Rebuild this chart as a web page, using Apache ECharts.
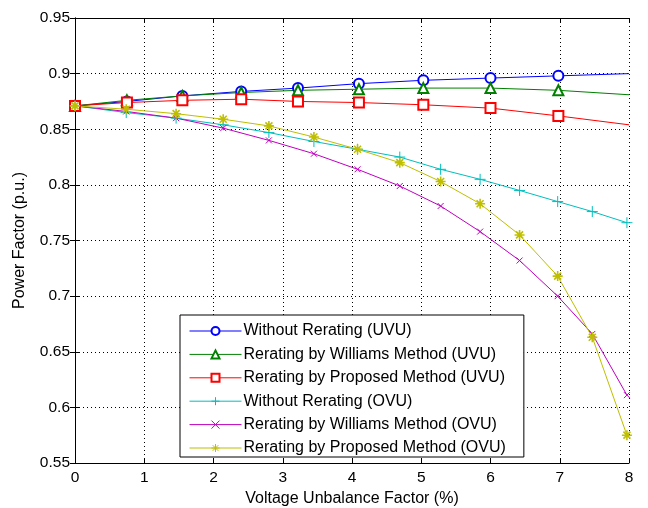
<!DOCTYPE html>
<html>
<head>
<meta charset="utf-8">
<script src="https://cdn.jsdelivr.net/npm/echarts@6/dist/echarts.min.js"></script>
<style>
  html, body { margin: 0; padding: 0; background: #fff; }
  #chart { width: 648px; height: 508px; }
</style>
</head>
<body>
<div id="chart"></div>
<script>
// x positions of the UVU curves (last point drawn without a marker)
const xUvu = [0, 0.75, 1.55, 2.4, 3.22, 4.1, 5.03, 6.0, 6.98, 8];
// x positions of the OVU curves
const xOvu = [0, 0.74, 1.46, 2.14, 2.8, 3.45, 4.08, 4.69, 5.28, 5.85, 6.42, 6.97, 7.47, 7.97];

const withoutUvu = [0.871, 0.875, 0.880, 0.884, 0.887, 0.891, 0.894, 0.896, 0.898, 0.900];
const williamsUvu = [0.871, 0.876, 0.880, 0.883, 0.885, 0.886, 0.887, 0.887, 0.885, 0.881];
const proposedUvu = [0.871, 0.874, 0.876, 0.877, 0.875, 0.874, 0.872, 0.869, 0.862, 0.854];
const withoutOvu = [0.871, 0.865, 0.860, 0.854, 0.847, 0.839, 0.832, 0.825, 0.814, 0.805, 0.795, 0.785, 0.776, 0.766];
const williamsOvu = [0.871, 0.866, 0.860, 0.851, 0.840, 0.828, 0.814, 0.799, 0.781, 0.758, 0.732, 0.700, 0.666, 0.611];
const proposedOvu = [0.871, 0.868, 0.864, 0.859, 0.853, 0.843, 0.832, 0.820, 0.803, 0.783, 0.755, 0.718, 0.663, 0.575];

const names = [
  'Without Rerating (UVU)',
  'Rerating by Williams Method (UVU)',
  'Rerating by Proposed Method (UVU)',
  'Without Rerating (OVU)',
  'Rerating by Williams Method (OVU)',
  'Rerating by Proposed Method (OVU)'
];

const FONT = "'Liberation Sans', Arial, sans-serif";
const PLUS = 'path://M5,0L5,10M0,5L10,5';
const CROSS = 'path://M0,0L10,10M10,0L0,10';
const STAR = 'path://M5,0L5,10M0,5L10,5M1.5,1.5L8.5,8.5M8.5,1.5L1.5,8.5';

function pairs(xs, ys, lastBare) {
  return ys.map((y, i) => {
    if (lastBare && i === ys.length - 1) return { value: [xs[i], y], symbol: 'none' };
    return [xs[i], y];
  });
}

function line(name, xs, ys, color, symbol, size, lastBare, bw) {
  return {
    name: name,
    type: 'line',
    data: pairs(xs, ys, lastBare),
    symbol: symbol,
    symbolSize: size,
    showAllSymbol: true,
    lineStyle: { color: color, width: 1 },
    itemStyle: { color: color, borderColor: color, borderWidth: bw || 1 },
    emphasis: { disabled: true }
  };
}

const chart = echarts.init(document.getElementById('chart'));
chart.setOption({
  animation: false,
  backgroundColor: '#fff',
  textStyle: { fontFamily: FONT },
  grid: { left: 75, right: 19, top: 18, bottom: 45, show: false, outerBoundsMode: 'none' },
  legend: {
    orient: 'vertical',
    left: 180,
    top: 315,
    padding: [8, 18, 1, 9],
    itemWidth: 52,
    itemHeight: 10,
    itemGap: 7.4,
    borderColor: '#000',
    borderWidth: 1,
    backgroundColor: '#fff',
    lineStyle: { width: 1 },
    itemStyle: { borderWidth: 1 },
    textStyle: { fontSize: 16, lineHeight: 16, color: '#000', fontFamily: FONT, padding: [0, 0, 0, -3] },
    data: names
  },
  xAxis: [
    {
      type: 'value', min: 0, max: 8, interval: 1,
      name: 'Voltage Unbalance Factor (%)', nameLocation: 'middle', nameGap: 27,
      nameTextStyle: { fontSize: 16, color: '#000', fontFamily: FONT },
      axisLine: { lineStyle: { color: '#000', width: 1 } },
      axisTick: { inside: true, length: 5, lineStyle: { color: '#000' } },
      axisLabel: { fontSize: 15.5, color: '#000', margin: 7 },
      splitLine: { show: true, lineStyle: { color: '#000', type: [1, 3], width: 1 } }
    },
    {
      type: 'value', min: 0, max: 8, interval: 1, position: 'top',
      axisLine: { lineStyle: { color: '#000', width: 1 } },
      axisTick: { inside: true, length: 5, lineStyle: { color: '#000' } },
      axisLabel: { show: false }, splitLine: { show: false }
    }
  ],
  yAxis: [
    {
      type: 'value', min: 0.55, max: 0.95, interval: 0.05,
      name: 'Power Factor (p.u.)', nameLocation: 'middle', nameGap: 47,
      nameTextStyle: { fontSize: 16, color: '#000', fontFamily: FONT },
      axisLine: { show: true, lineStyle: { color: '#000', width: 1 } },
      axisTick: { show: true, inside: true, length: 5, lineStyle: { color: '#000' } },
      axisLabel: { fontSize: 15.5, color: '#000', margin: 5 },
      splitLine: { show: true, lineStyle: { color: '#000', type: [1, 3], width: 1 } }
    },
    {
      type: 'value', min: 0.55, max: 0.95, interval: 0.05, position: 'right',
      axisLine: { show: true, lineStyle: { color: '#000', width: 1 } },
      axisTick: { show: true, inside: true, length: 5, lineStyle: { color: '#000' } },
      axisLabel: { show: false }, splitLine: { show: false }
    }
  ],
  series: [
    line(names[0], xUvu, withoutUvu, '#0000ff', 'emptyCircle', 10, true),
    line(names[1], xUvu, williamsUvu, '#008000', 'emptyTriangle', 10, true),
    line(names[2], xUvu, proposedUvu, '#ff0000', 'emptyRect', 10, true),
    line(names[3], xOvu, withoutOvu, '#00bfbf', PLUS, 11, false),
    line(names[4], xOvu, williamsOvu, '#bf00bf', CROSS, 6, false),
    line(names[5], xOvu, proposedOvu, '#bfbf00', STAR, 10, false, 1.6)
  ]
});
</script>
</body>
</html>
